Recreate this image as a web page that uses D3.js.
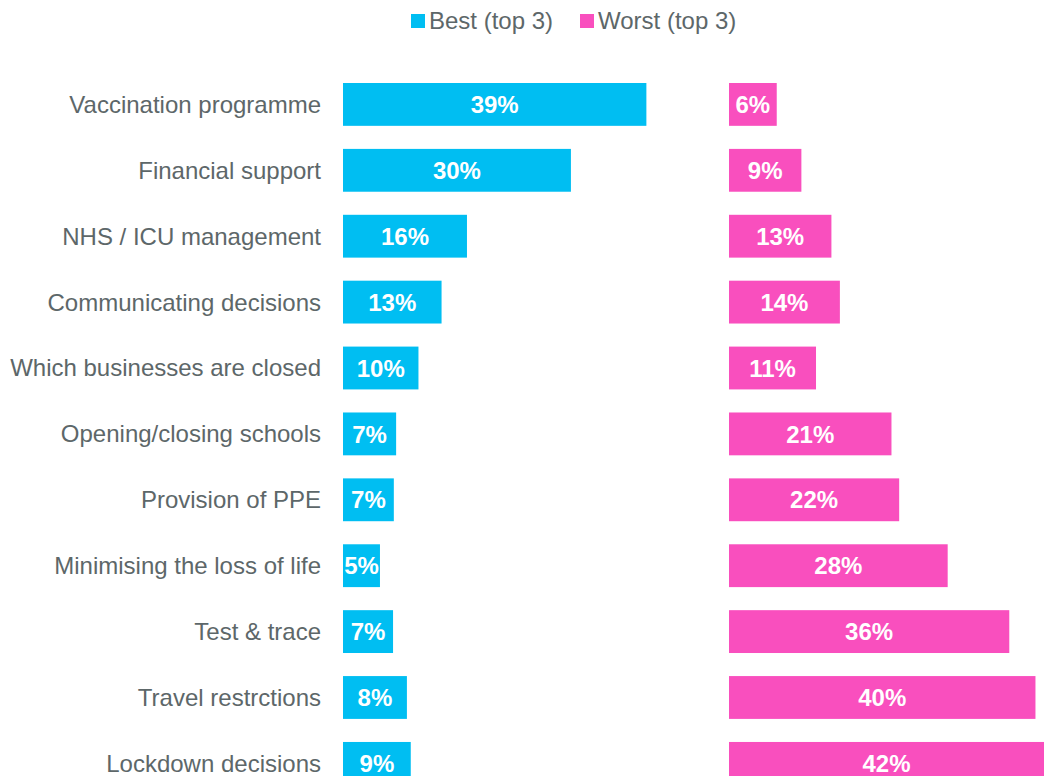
<!DOCTYPE html>
<html>
<head>
<meta charset="utf-8">
<script src="https://d3js.org/d3.v7.min.js"></script>
<style>
  body { margin: 0; background: #fff; }
  svg { display: block; font-family: "Liberation Sans", Arial, sans-serif; }
</style>
</head>
<body>
<svg width="1044" height="776"></svg>
<script>
// categories, top to bottom
var categories = ["Vaccination programme", "Financial support", "NHS / ICU management",
  "Communicating decisions", "Which businesses are closed", "Opening/closing schools",
  "Provision of PPE", "Minimising the loss of life", "Test & trace",
  "Travel restrctions", "Lockdown decisions"];
// share choosing each as best / worst (top 3), %
var best  = [39.4, 29.6, 16.1, 12.8, 9.8, 6.9, 6.6, 4.8, 6.5, 8.3, 8.8];
var worst = [6.2, 9.4, 13.3, 14.4, 11.3, 21.1, 22.1, 28.4, 36.4, 39.8, 42.3];
var seriesNames = ["Best (top 3)", "Worst (top 3)"];
var colors = ["#00bef2", "#f94fbe"];

var svg = d3.select("svg");

var y = d3.scaleBand().domain(categories).range([83, 784.8]).paddingInner(0.35).paddingOuter(0);
var xBest = d3.scaleLinear().domain([0, 100]).range([343, 343 + 770]);
var xWorst = d3.scaleLinear().domain([0, 100]).range([729, 729 + 770]);
var fmt = function(v) { return Math.round(v) + "%"; };

// category labels
svg.append("g").selectAll("text")
  .data(categories)
  .enter().append("text")
    .attr("x", 321)
    .attr("y", function(d) { return y(d) + y.bandwidth() / 2; })
    .attr("dy", "0.35em")
    .attr("text-anchor", "end")
    .style("font-size", "24px")
    .style("fill", "#5d6769")
    .text(function(d) { return d; });

function drawSeries(vals, x, color) {
  var g = svg.append("g");
  g.selectAll("rect")
    .data(vals)
    .enter().append("rect")
      .attr("x", x(0))
      .attr("y", function(d, i) { return y(categories[i]); })
      .attr("width", function(d) { return x(d) - x(0); })
      .attr("height", y.bandwidth())
      .style("fill", color);
  g.selectAll("text")
    .data(vals)
    .enter().append("text")
      .attr("x", function(d) { return (x(0) + Math.min(x(d), 1044)) / 2; })
      .attr("y", function(d, i) { return y(categories[i]) + y.bandwidth() / 2; })
      .attr("dy", "0.36em")
      .attr("text-anchor", "middle")
      .style("font-size", "24px")
      .style("font-weight", "bold")
      .style("fill", "#fff")
      .text(fmt);
}
drawSeries(best, xBest, colors[0]);
drawSeries(worst, xWorst, colors[1]);

// legend
var legX = [411, 580];
var leg = svg.append("g");
seriesNames.forEach(function(name, i) {
  leg.append("rect")
    .attr("x", legX[i]).attr("y", 14)
    .attr("width", 14).attr("height", 14)
    .style("fill", colors[i]);
  leg.append("text")
    .attr("x", legX[i] + 18).attr("y", 21)
    .attr("dy", "0.35em")
    .style("font-size", "24px")
    .style("fill", "#5d6769")
    .text(name);
});
</script>
</body>
</html>
